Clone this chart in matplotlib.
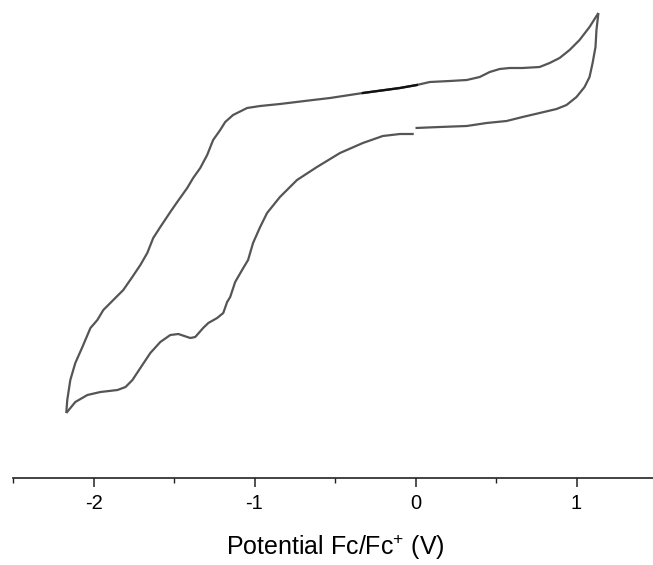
import numpy as np
import matplotlib
matplotlib.use("Agg")
import matplotlib.pyplot as plt

plt.rcParams['font.family'] = ['Liberation Sans', 'DejaVu Sans']
plt.rcParams['mathtext.fontset'] = 'custom'
plt.rcParams['mathtext.rm'] = 'Liberation Sans'
plt.rcParams['mathtext.it'] = 'Liberation Sans'

# Anodic sweep: 0 V -> +1.14 V (lower branch)
e_fwd = [0.00, 0.151, 0.318, 0.442, 0.566, 0.665, 0.771, 0.876, 0.938, 1.000,
         1.050, 1.081, 1.100, 1.118, 1.124, 1.136]
i_fwd = [44.4, 44.6, 44.8, 45.4, 45.8, 46.6, 47.4, 48.2, 49.0, 50.6,
         52.6, 54.6, 57.4, 60.6, 64.0, 67.4]

# Reverse sweep: +1.14 V -> -2.17 V (upper branch)
e_rev = [1.136, 1.081, 1.019, 0.957, 0.895, 0.833, 0.771, 0.665, 0.585, 0.523,
         0.461, 0.399, 0.318, 0.213, 0.089, 0.008, -0.097, -0.327, -0.531, -0.637,
         -0.842, -0.965, -1.046, -1.133, -1.182, -1.213, -1.257, -1.294, -1.337, -1.381,
         -1.418, -1.480, -1.523, -1.585, -1.629, -1.666, -1.709, -1.759, -1.815, -1.877,
         -1.939, -1.976, -2.019, -2.069, -2.113, -2.144, -2.163, -2.169]
i_rev = [67.4, 64.6, 62.0, 60.0, 58.4, 57.4, 56.6, 56.4, 56.4, 56.2,
         55.6, 54.6, 54.0, 53.8, 53.6, 53.0, 52.4, 51.4, 50.4, 50.0,
         49.2, 48.8, 48.4, 47.0, 45.6, 44.0, 42.0, 39.0, 36.4, 34.4,
         32.4, 29.6, 27.6, 24.6, 22.4, 19.4, 17.0, 14.6, 12.0, 10.0,
         8.0, 6.0, 4.4, 0.6, -2.6, -6.0, -10.0, -12.6]

# Return sweep: -2.17 V -> 0 V (lower-left branch)
e_ret = [-2.169, -2.113, -2.038, -1.957, -1.851, -1.801, -1.758, -1.709, -1.647, -1.585,
         -1.523, -1.473, -1.399, -1.368, -1.319, -1.287, -1.232, -1.194, -1.170, -1.151,
         -1.120, -1.077, -1.040, -1.009, -0.965, -0.922, -0.842, -0.736, -0.612, -0.469,
         -0.327, -0.203, -0.097, -0.011]
i_ret = [-12.6, -10.4, -9.0, -8.4, -8.0, -7.4, -6.0, -3.6, -0.6, 1.6,
         3.0, 3.2, 2.4, 2.6, 4.4, 5.4, 6.4, 7.4, 9.6, 10.6,
         13.6, 16.0, 18.0, 21.4, 24.6, 27.4, 30.6, 34.0, 36.6, 39.4,
         41.4, 42.8, 43.2, 43.2]

x_ticks = [-2, -1, 0, 1]
x_tick_labels = ['-2', '-1', '0', '1']

W, H = 653, 565
fig = plt.figure(figsize=(W / 100, H / 100), dpi=100)
left_px, right_px, bottom_px = 13, 657, 478
ax = fig.add_axes([left_px / W, (H - bottom_px) / H, (right_px - left_px) / W, bottom_px / H])

line_color = '#555555'
for e, i in [(e_fwd, i_fwd), (e_rev, i_rev), (e_ret, i_ret)]:
    ax.plot(e, i, color=line_color, lw=1.6, solid_capstyle='butt', solid_joinstyle='round')

# darker overlap section on the reverse branch
e_rev_arr = np.array(e_rev)
i_rev_arr = np.array(i_rev)
m = (e_rev_arr >= -0.34) & (e_rev_arr <= 0.01)
ax.plot(e_rev_arr[m], i_rev_arr[m], color='#111111', lw=1.7)

ax.set_xlim(-2.5, 1.5)
ax.set_ylim(-25.6, 70)

for s in ['left', 'right', 'top']:
    ax.spines[s].set_visible(False)
ax.spines['bottom'].set_linewidth(1.2)
ax.spines['bottom'].set_color('#222222')

ax.set_yticks([])
ax.set_xticks(x_ticks)
ax.set_xticklabels(x_tick_labels)
ax.set_xticks(np.arange(-2.5, 1.51, 0.5), minor=True)
ax.tick_params(axis='x', which='major', direction='out', length=6.5, width=1.1,
               color='#222222', labelsize=14.5, pad=5)
ax.tick_params(axis='x', which='minor', direction='out', length=3.5, width=1.0,
               color='#222222')

ax.set_xlabel(r'Potential Fc/Fc$^{+}$ (V)', fontsize=18, labelpad=14)

fig.savefig('out.png', dpi=100)
